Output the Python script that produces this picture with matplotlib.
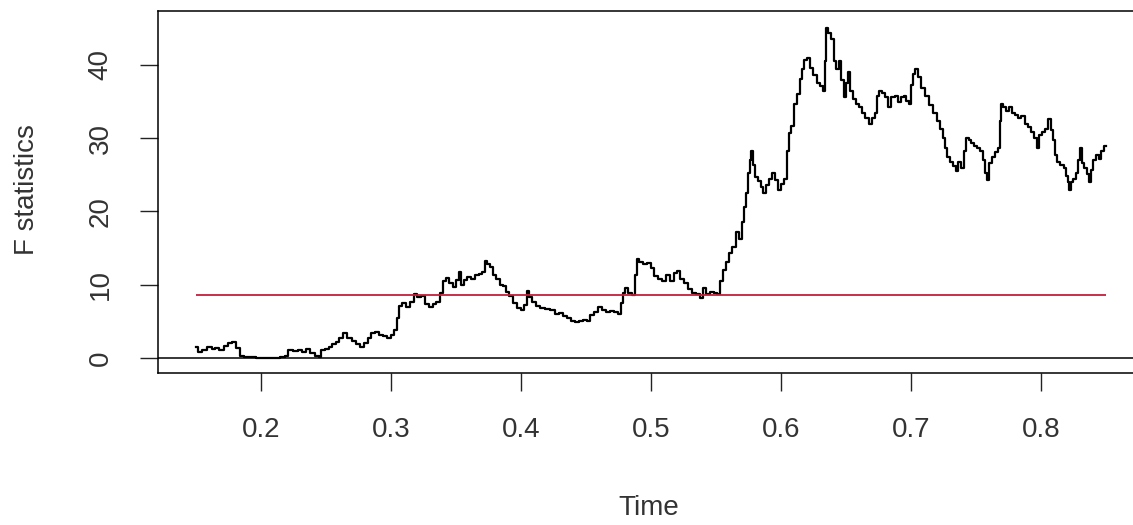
import matplotlib
matplotlib.use('Agg')
import matplotlib.pyplot as plt

# F statistics over time
times = [0.1500, 0.1531, 0.1569, 0.1608, 0.1638, 0.1662, 0.1700, 0.1731, 0.1762, 0.1800,
         0.1823, 0.1854, 0.1885, 0.1931, 0.1992, 0.2069, 0.2123, 0.2169, 0.2200, 0.2223,
         0.2269, 0.2300, 0.2331, 0.2362, 0.2400, 0.2438, 0.2454, 0.2477, 0.2508, 0.2531,
         0.2569, 0.2592, 0.2615, 0.2646, 0.2685, 0.2723, 0.2746, 0.2777, 0.2808, 0.2838,
         0.2862, 0.2892, 0.2923, 0.2954, 0.2992, 0.3015, 0.3038, 0.3054, 0.3077, 0.3100,
         0.3131, 0.3162, 0.3185, 0.3215, 0.3246, 0.3277, 0.3308, 0.3338, 0.3362, 0.3385,
         0.3408, 0.3438, 0.3462, 0.3485, 0.3508, 0.3531, 0.3554, 0.3577, 0.3600, 0.3631,
         0.3662, 0.3692, 0.3715, 0.3731, 0.3754, 0.3777, 0.3800, 0.3823, 0.3854, 0.3877,
         0.3900, 0.3923, 0.3954, 0.3985, 0.4015, 0.4038, 0.4054, 0.4077, 0.4100, 0.4131,
         0.4169, 0.4208, 0.4246, 0.4277, 0.4308, 0.4338, 0.4369, 0.4400, 0.4431, 0.4462,
         0.4492, 0.4523, 0.4546, 0.4577, 0.4608, 0.4638, 0.4669, 0.4700, 0.4731, 0.4762,
         0.4777, 0.4792, 0.4815, 0.4838, 0.4869, 0.4885, 0.4900, 0.4923, 0.4954, 0.4985,
         0.5008, 0.5038, 0.5069, 0.5100, 0.5131, 0.5162, 0.5192, 0.5215, 0.5238, 0.5269,
         0.5300, 0.5331, 0.5362, 0.5392, 0.5415, 0.5438, 0.5469, 0.5500, 0.5523, 0.5546,
         0.5569, 0.5592, 0.5615, 0.5638, 0.5669, 0.5692, 0.5708, 0.5723, 0.5738, 0.5754,
         0.5769, 0.5777, 0.5792, 0.5808, 0.5831, 0.5854, 0.5877, 0.5900, 0.5923, 0.5946,
         0.5969, 0.5992, 0.6015, 0.6038, 0.6054, 0.6069, 0.6085, 0.6108, 0.6131, 0.6154,
         0.6169, 0.6192, 0.6215, 0.6238, 0.6262, 0.6285, 0.6315, 0.6338, 0.6346, 0.6354,
         0.6377, 0.6400, 0.6415, 0.6431, 0.6454, 0.6477, 0.6492, 0.6508, 0.6523, 0.6546,
         0.6569, 0.6592, 0.6615, 0.6638, 0.6662, 0.6685, 0.6708, 0.6731, 0.6746, 0.6769,
         0.6792, 0.6815, 0.6838, 0.6862, 0.6885, 0.6908, 0.6931, 0.6954, 0.6977, 0.6992,
         0.7008, 0.7023, 0.7046, 0.7069, 0.7092, 0.7123, 0.7154, 0.7185, 0.7215, 0.7238,
         0.7254, 0.7269, 0.7285, 0.7308, 0.7331, 0.7354, 0.7377, 0.7400, 0.7415, 0.7431,
         0.7454, 0.7477, 0.7500, 0.7523, 0.7546, 0.7562, 0.7577, 0.7592, 0.7615, 0.7638,
         0.7662, 0.7677, 0.7692, 0.7700, 0.7723, 0.7746, 0.7769, 0.7792, 0.7815, 0.7838,
         0.7862, 0.7885, 0.7908, 0.7931, 0.7954, 0.7977, 0.8000, 0.8023, 0.8046, 0.8069,
         0.8085, 0.8100, 0.8115, 0.8138, 0.8162, 0.8185, 0.8200, 0.8215, 0.8223, 0.8238,
         0.8254, 0.8277, 0.8292, 0.8308, 0.8323, 0.8346, 0.8362, 0.8377, 0.8392, 0.8408,
         0.8438, 0.8454, 0.8469, 0.8500]
fstat = [1.5, 0.8, 1.1, 1.5, 1.2, 1.4, 1.1, 1.6, 2.0, 2.2,
         1.4, 0.3, 0.1, 0.1, 0.0, 0.0, 0.0, 0.1, 0.3, 1.1,
         1.0, 1.1, 0.8, 1.2, 0.7, 0.3, 0.1, 1.1, 1.2, 1.5,
         1.9, 2.2, 2.7, 3.4, 2.7, 2.3, 1.9, 1.5, 2.0, 2.7,
         3.4, 3.5, 3.1, 3.0, 2.7, 3.1, 3.8, 5.4, 7.1, 7.5,
         6.9, 7.6, 8.7, 8.3, 8.4, 7.4, 6.9, 7.4, 7.6, 8.9,
         10.5, 10.9, 10.2, 9.7, 10.6, 11.7, 9.9, 10.6, 11.0, 10.8,
         11.3, 11.4, 11.7, 13.2, 12.8, 12.4, 11.3, 10.8, 9.9, 9.8,
         9.0, 8.4, 7.5, 6.8, 6.5, 7.2, 9.1, 8.3, 7.6, 7.1,
         6.8, 6.7, 6.5, 6.0, 6.1, 5.7, 5.4, 5.0, 4.9, 5.0,
         5.2, 5.0, 5.9, 6.3, 6.9, 6.5, 6.3, 6.4, 6.3, 6.0,
         7.5, 8.9, 9.5, 8.9, 8.6, 11.3, 13.5, 13.1, 12.8, 12.9,
         12.3, 11.2, 10.8, 10.5, 11.3, 10.5, 11.6, 11.9, 10.8, 10.2,
         9.4, 8.9, 8.7, 8.2, 9.5, 8.7, 9.0, 8.9, 8.7, 10.5,
         12.0, 13.1, 14.3, 15.1, 17.2, 16.3, 18.5, 20.6, 22.5, 25.2,
         27.0, 28.3, 26.3, 24.7, 24.1, 23.3, 22.5, 23.6, 24.5, 25.3,
         24.3, 22.9, 23.8, 24.5, 28.3, 30.7, 31.7, 34.7, 36.1, 38.1,
         39.5, 40.7, 41.0, 39.6, 38.6, 37.5, 37.1, 36.4, 40.6, 45.0,
         44.3, 43.6, 40.6, 39.5, 40.6, 37.9, 35.6, 37.5, 39.0, 36.5,
         35.4, 34.7, 34.2, 33.5, 32.8, 32.0, 32.7, 33.4, 35.8, 36.5,
         36.2, 35.6, 34.2, 35.6, 35.8, 35.0, 35.6, 35.8, 35.1, 34.7,
         37.2, 38.8, 39.5, 38.3, 36.9, 35.8, 34.6, 33.4, 32.4, 31.3,
         30.1, 28.7, 27.4, 26.7, 26.2, 25.5, 26.7, 25.9, 28.3, 30.1,
         29.8, 29.4, 29.0, 28.7, 28.2, 27.0, 25.3, 24.3, 26.6, 27.4,
         28.1, 28.6, 32.4, 34.7, 34.2, 33.7, 34.3, 33.5, 33.2, 32.7,
         33.1, 32.0, 31.5, 30.9, 30.1, 28.7, 30.4, 30.9, 31.3, 32.6,
         31.1, 29.7, 27.7, 26.8, 26.4, 25.9, 24.9, 24.0, 22.9, 24.0,
         24.5, 25.3, 27.0, 28.6, 26.6, 25.9, 25.1, 24.0, 25.6, 27.0,
         27.7, 27.2, 28.3, 28.9]
crit_value = 8.6
x_ticks = [0.2, 0.3, 0.4, 0.5, 0.6, 0.7, 0.8]
y_ticks = [0, 10, 20, 30, 40]

plt.rcParams['font.family'] = ['Liberation Sans', 'DejaVu Sans']

W, H = 1133, 525
fig = plt.figure(figsize=(W / 100, H / 100), dpi=100)
# plot box in pixels: left 158, right 1142 (cut off by the picture edge), top 11, bottom 373
ax = fig.add_axes([158 / W, (H - 373) / H, (1142 - 158) / W, (373 - 11) / H])

# R-like stepped trace
ax.plot(times, fstat, color='black', lw=1.6, drawstyle='steps-mid')
ax.hlines(crit_value, times[0], times[-1], color='#C41E3A', lw=1.3)
ax.axhline(0, color='black', lw=1.1)

ax.set_xlim(0.1208, 0.8777)
ax.set_ylim(-2.05, 47.37)

ax.set_xticks(x_ticks)
ax.set_xticklabels([str(t) for t in x_ticks])
ax.set_yticks(y_ticks)
ax.set_yticklabels([str(v) for v in y_ticks], rotation=90, va='center')
ax.tick_params(axis='both', length=13, width=1.0, color='#222222',
               labelsize=20, labelcolor='#333333', pad=19)

for s in ax.spines.values():
    s.set_linewidth(1.1)

fig.text(27 / W, 1 - 190 / H, 'F statistics', rotation=90, ha='center', va='center',
         fontsize=20, color='#333333')
fig.text(649 / W, 1 - 508 / H, 'Time', ha='center', va='center',
         fontsize=20, color='#333333')

fig.savefig('out.png', dpi=100)
